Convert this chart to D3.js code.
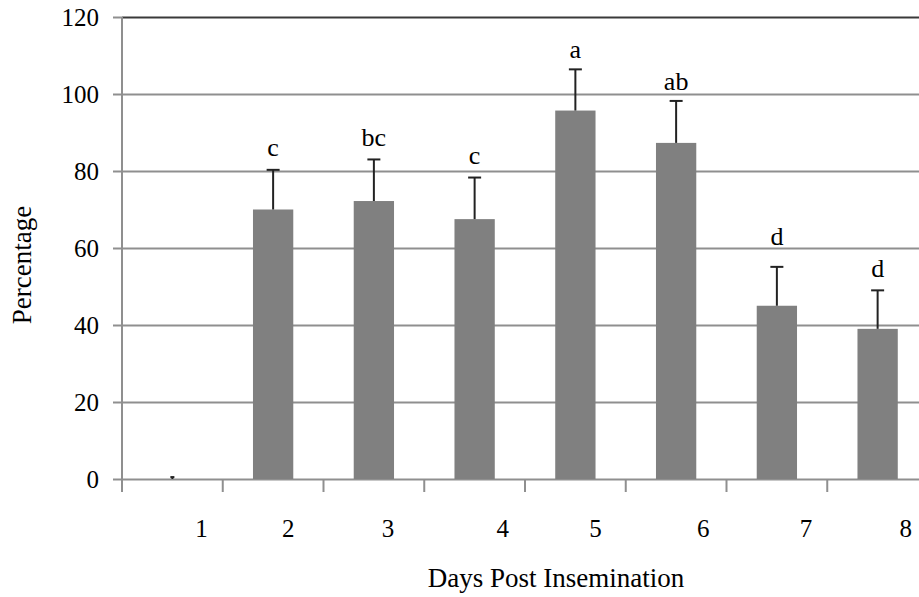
<!DOCTYPE html>
<html>
<head>
<meta charset="utf-8">
<script src="https://cdn.jsdelivr.net/npm/d3@7/dist/d3.min.js"></script>
<style>
  html, body { margin: 0; padding: 0; background: #fff; }
  svg { display: block; }
  svg text { font-family: "Liberation Serif", "Times New Roman", "DejaVu Serif", serif !important; fill: #000; }
</style>
</head>
<body>
<svg id="chart" width="919" height="597"></svg>
<script>
// ---- data ----
const days = ["1", "2", "3", "4", "5", "6", "7", "8"];
const percentage = [0, 70, 72.2, 67.5, 95.7, 87.3, 45, 39];
const sem = [0.5, 10.3, 10.8, 10.8, 10.7, 10.9, 10.1, 10];
const letters = ["", "c", "bc", "c", "a", "ab", "d", "d"];
const yTicks = [0, 20, 40, 60, 80, 100, 120];
const xTitle = "Days Post Insemination";
const yTitle = "Percentage";

// ---- layout ----
const W = 919, H = 597;
const pLeft = 122, pRight = 928, pTop = 17, pBottom = 479;
const labelNudge = [29, 15, 14, 28, 20, 27, 29, 28];
const letterGap = [13, 13.5, 13, 14, 11.5, 11, 21.5, 13.5];
const serif = "'Liberation Serif', 'Times New Roman', serif";

const svg = d3.select("#chart");

const x = d3.scaleBand().domain(days).range([pLeft, pRight])
  .paddingInner(0.6).paddingOuter(0.3);
const y = d3.scaleLinear().domain([0, 120]).range([pBottom, pTop]);

// gridlines
const grid = svg.append("g").attr("transform", `translate(${pLeft},0)`)
  .call(d3.axisRight(y).tickValues(yTicks).tickSize(W - pLeft).tickFormat(""));
grid.select(".domain").remove();
grid.selectAll(".tick line")
  .attr("stroke", d => d === 120 ? "#3a3a3a" : "#8f8f8f")
  .attr("stroke-width", 2);

// bars
svg.append("g").selectAll("rect").data(days).join("rect")
  .attr("x", d => x(d))
  .attr("width", x.bandwidth())
  .attr("y", (d, i) => y(percentage[i]))
  .attr("height", (d, i) => y(0) - y(percentage[i]))
  .attr("fill", "#808080");

// error bars
const eb = svg.append("g").attr("stroke", "#222").attr("stroke-width", 2);
days.forEach((d, i) => {
  const cx = x(d) + x.bandwidth() / 2;
  const y0 = y(percentage[i]);
  const y1 = y(percentage[i] + sem[i]);
  const cw = Math.min(13, sem[i] * 8);
  eb.append("line").attr("x1", cx).attr("x2", cx).attr("y1", y0).attr("y2", y1);
  eb.append("line").attr("x1", cx - cw / 2).attr("x2", cx + cw / 2).attr("y1", y1).attr("y2", y1);
});

// significance letters
svg.append("g").attr("font-family", serif).attr("font-size", 26)
  .selectAll("text").data(days).join("text")
  .attr("x", d => x(d) + x.bandwidth() / 2)
  .attr("y", (d, i) => y(percentage[i] + sem[i]) - letterGap[i])
  .attr("text-anchor", "middle")
  .text((d, i) => letters[i]);

// y axis
const ya = svg.append("g").attr("transform", `translate(${pLeft},0)`)
  .call(d3.axisLeft(y).tickValues(yTicks).tickSize(9).tickPadding(14))
  .attr("font-family", serif).attr("font-size", 25);
ya.select(".domain").remove();
ya.selectAll(".tick line").attr("stroke", "#8f8f8f").attr("stroke-width", 2);
ya.selectAll(".tick text").attr("fill", "#000");
svg.append("line").attr("x1", pLeft).attr("x2", pLeft)
  .attr("y1", pTop).attr("y2", pBottom + 13)
  .attr("stroke", "#8f8f8f").attr("stroke-width", 2);

// x axis: ticks at category boundaries, labels below
const step = x.step();
const boundaries = days.map(d => x(d) - (step - x.bandwidth()) / 2);
svg.append("g").selectAll("line").data(boundaries).join("line")
  .attr("x1", b => b).attr("x2", b => b)
  .attr("y1", pBottom).attr("y2", pBottom + 13)
  .attr("stroke", "#8f8f8f").attr("stroke-width", 2);

const xa = svg.append("g").attr("transform", `translate(0,${pBottom})`)
  .call(d3.axisBottom(x).tickSize(0).tickPadding(0))
  .attr("font-family", serif).attr("font-size", 25);
xa.select(".domain").remove();
xa.selectAll(".tick text")
  .attr("dx", (d, i) => labelNudge[i])
  .attr("dy", 0).attr("y", 58)
  .attr("fill", "#000");

// titles
svg.append("text").attr("x", 556).attr("y", 587)
  .attr("font-family", serif).attr("font-size", 27)
  .attr("text-anchor", "middle").text(xTitle);
svg.append("text")
  .attr("transform", "translate(31,265) rotate(-90)")
  .attr("font-family", serif).attr("font-size", 27)
  .attr("text-anchor", "middle").text(yTitle);
</script>
</body>
</html>
